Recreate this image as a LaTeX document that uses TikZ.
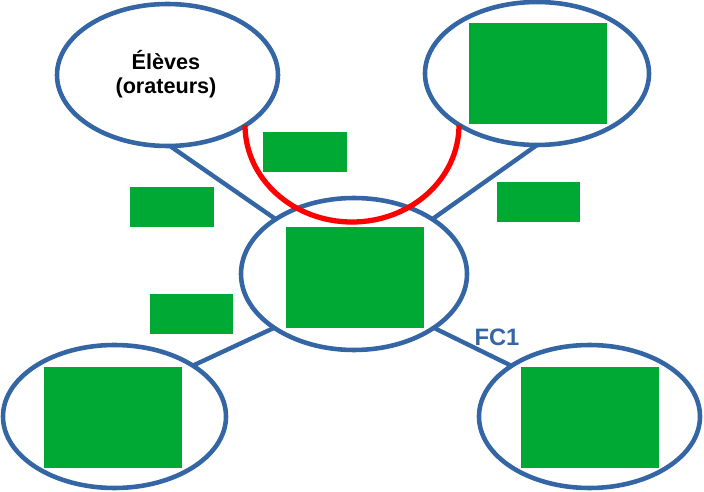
\documentclass[tikz,border=0pt]{standalone}
\usepackage{fontspec}
\setmainfont{Liberation Sans}
\usetikzlibrary{shapes.geometric}
\definecolor{bleu}{HTML}{3465A4}
\definecolor{vert}{HTML}{00A933}
\tikzset{
  bulle/.style={ellipse,draw=bleu,line width=2.6pt,inner sep=0pt,outer sep=0pt},
  lien/.style={draw=bleu,line width=2.5pt},
  grand/.style={fill=vert,minimum width=2.76cm,minimum height=2.02cm,inner sep=0pt},
  petit/.style={fill=vert,minimum width=1.67cm,minimum height=0.8cm,inner sep=0pt}
}
\begin{document}
\begin{tikzpicture}
\useasboundingbox (0,0) rectangle (14.08,9.84);
\node[bulle,minimum width=4.42cm,minimum height=2.84cm](eleves) at (3.35,8.34){};
\node[bulle,minimum width=4.48cm,minimum height=2.86cm](hd) at (10.74,8.37){};
\node[bulle,minimum width=4.52cm,minimum height=3.04cm](centre) at (7.08,4.36){};
\node[bulle,minimum width=4.46cm,minimum height=2.86cm](bg) at (2.29,1.51){};
\node[bulle,minimum width=4.42cm,minimum height=2.86cm](bd) at (11.79,1.51){};
\node[grand](rhd) at (10.75,8.37){};
\node[grand](rc) at (7.10,4.29){};
\node[grand](rbg) at (2.26,1.49){};
\node[grand](rbd) at (11.80,1.49){};
\node[petit](p1) at (6.10,6.80){};
\node[petit](p2) at (3.44,5.70){};
\node[petit](p3) at (10.77,5.80){};
\node[petit](p4) at (3.83,3.56){};
\draw[lien](eleves.-88)--(centre.145);
\draw[lien](hd.-90)--(centre.35);
\draw[lien](centre.214.7)--(bg.33.3);
\draw[lien](centre.-34.7)--(bd.147.4);
\node[align=center,font=\bfseries\fontsize{12.3}{13.8}\selectfont](t) at (3.32,8.36){Élèves\\(orateurs)};
\node[text=bleu,font=\bfseries\fontsize{13.5}{15}\selectfont](fc) at (9.94,3.10){FC1};
\draw[red,line width=3pt](4.90,7.34) arc[start angle=180,end angle=360,x radius=2.14,y radius=1.94];
\end{tikzpicture}
\end{document}
